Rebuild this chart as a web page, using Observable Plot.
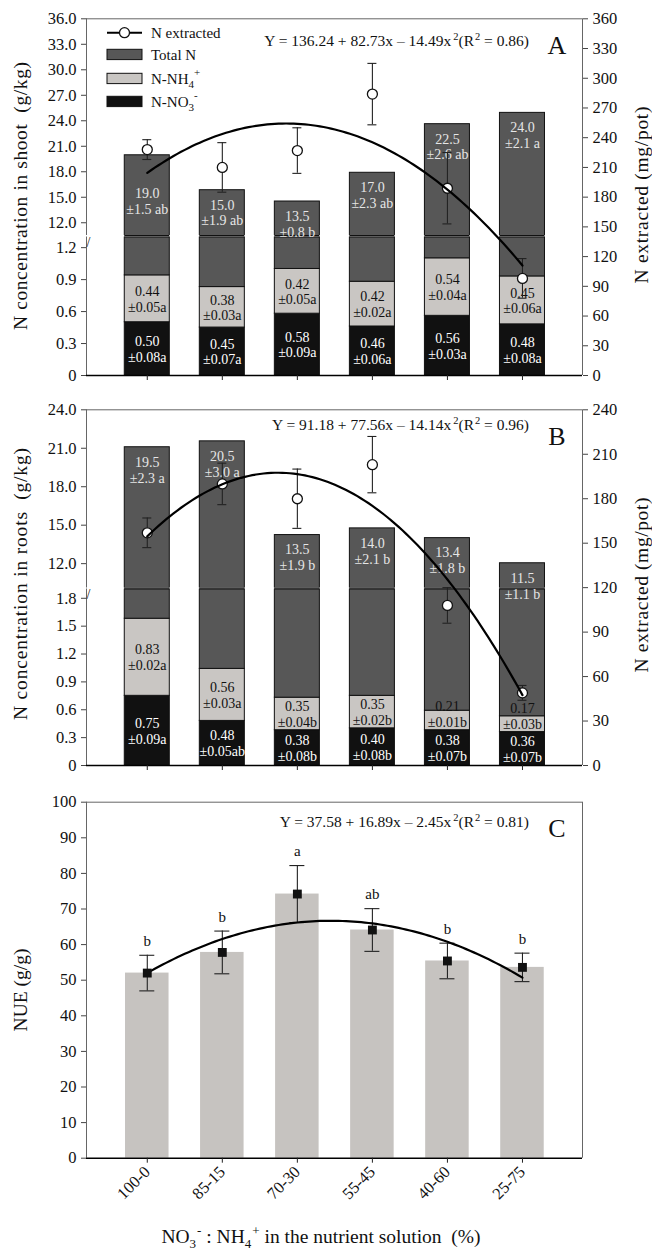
<!DOCTYPE html>
<html><head><meta charset="utf-8">
<script src="https://cdn.jsdelivr.net/npm/d3@7"></script>
<script src="https://cdn.jsdelivr.net/npm/@observablehq/plot@0.6"></script>
<style>
body{margin:0;background:#fff;}
#chart{position:relative;width:652px;height:1253px;background:#fff;}
#chart svg.overlay text, #chart svg.overlay tspan{white-space:pre;}
</style></head><body><div id="chart"></div>
<script>
// ---------- data ----------
const categories = ["100-0","85-15","70-30","55-45","40-60","25-75"];
const idx = [1,2,3,4,5,6];

// Panel A – shoot
const shootNO3 = [0.50,0.45,0.58,0.46,0.56,0.48];
const shootNO3SD = ["±0.08a","±0.07a","±0.09a","±0.06a","±0.03a","±0.08a"];
const shootNH4 = [0.44,0.38,0.42,0.42,0.54,0.45];
const shootNH4SD = ["±0.05a","±0.03a","±0.05a","±0.02a","±0.04a","±0.06a"];
const shootTotal = [19.0,15.0,13.5,17.0,22.5,24.0];
const shootTotalSD = ["±1.5 ab","±1.9 ab","±0.8 b","±2.3 ab","±2.6 ab","±2.1 a"];
const shootExtracted = [228,210,227,284,189,98];
const shootExtractedErr = [10,25,23,31,36,20];
const shootFit = [136.24, 82.73, -14.49];

// Panel B – roots
const rootNO3 = [0.75,0.48,0.38,0.40,0.38,0.36];
const rootNO3SD = ["±0.09a","±0.05ab","±0.08b","±0.08b","±0.07b","±0.07b"];
const rootNH4 = [0.83,0.56,0.35,0.35,0.21,0.17];
const rootNH4SD = ["±0.02a","±0.03a","±0.04b","±0.02b","±0.01b","±0.03b"];
const rootTotal = [19.5,20.5,13.5,14.0,13.4,11.5];
const rootTotalSD = ["±2.3 a","±3.0 a","±1.9 b","±2.1 b","±1.8 b","±1.1 b"];
const rootExtracted = [157,190,180,203,108,49];
const rootExtractedErr = [10,14,20,19,12,5];
const rootFit = [91.18, 77.56, -14.14];

// Panel C – NUE
const nue = [52.0,57.8,74.2,64.1,55.4,53.6];
const nueErr = [5,6,8,6,5,4];
const nueLetters = ["b","b","a","ab","b","b"];
const nueFit = [37.58, 16.89, -2.45];

// axes
const shootTicksUpper = [12,15,18,21,24,27,30,33,36];
const shootTicksLower = [0,0.3,0.6,0.9,1.2];
const shootDomUpper = [10.5, 36];
const shootDomLower = [0, 1.3];
const extractedDomA = [0, 360];
const extractedTicksA = d3.range(0, 361, 30);
const rootTicksUpper = [12,15,18,21,24];
const rootTicksLower = [0,0.3,0.6,0.9,1.2,1.5,1.8];
const rootDomUpper = [10.1, 24];
const rootDomLower = [0, 1.9];
const extractedDomB = [0, 240];
const extractedTicksB = d3.range(0, 241, 30);
const nueTicks = d3.range(0, 101, 10);

// ---------- styling ----------
const FONT = "'Liberation Serif','Times New Roman',serif";
const C_TOTAL = "#575757", C_NH4 = "#c9c6c3", C_NO3 = "#111111", C_NUE = "#c6c3c0";
const FRAME = "#666";
const xDomain = [0.19, 6.8];
const barHalf = 0.3, capHalf = 0.06;
const H = 390; // height of panels A and B

const chart = document.getElementById("chart");

function addPlot(top, height, mTop, mBottom, yDomain, marks) {
  const svg = Plot.plot({
    width: 652, height,
    marginTop: mTop, marginBottom: mBottom, marginLeft: 86, marginRight: 70,
    x: {domain: xDomain, axis: null},
    y: {domain: yDomain, axis: null},
    style: {background: "transparent", overflow: "visible", fontFamily: FONT, fontSize: "16.5px", color: "#111"},
    marks
  });
  Object.assign(svg.style, {position: "absolute", left: "0px", top: top + "px", maxWidth: "none"});
  chart.appendChild(svg);
}

const fitAt = (c, x) => c[0] + c[1] * x + c[2] * x * x;
function rows(no3, nh4, total, no3sd, nh4sd, totsd) {
  return idx.map((x, i) => {
    const a = no3[i], b = a + nh4[i], c = b + total[i];
    return {x, no3: no3[i], nh4: nh4[i], total: total[i], s1: a, s2: b, s3: c,
      no3Text: `${no3[i].toFixed(2)}\n${no3sd[i]}`,
      nh4Text: `${nh4[i].toFixed(2)}\n${nh4sd[i]}`,
      totText: `${total[i].toFixed(1)}\n${totsd[i]}`};
  });
}
function pointRows(vals, errs) { return idx.map((x, i) => ({x, v: vals[i], lo: vals[i] - errs[i], hi: vals[i] + errs[i]})); }
function fitCurve(c) { return d3.range(1, 6.0001, 0.05).map(x => ({x, y: fitAt(c, x)})); }

const bx1 = d => d.x - barHalf, bx2 = d => d.x + barHalf;
function barMarks(R) {
  return [
    Plot.rectY(R, {x1: bx1, x2: bx2, y1: 0, y2: "s1", fill: C_NO3, stroke: "#111", strokeWidth: 1, clip: true}),
    Plot.rectY(R, {x1: bx1, x2: bx2, y1: "s1", y2: "s2", fill: C_NH4, stroke: "#111", strokeWidth: 1, clip: true}),
    Plot.rectY(R, {x1: bx1, x2: bx2, y1: "s2", y2: "s3", fill: C_TOTAL, stroke: "#111", strokeWidth: 1, clip: true})
  ];
}

function panel(cfg) {
  const {top, R, domU, ticksU, domL, ticksL, mTopU, mBotU, mTopL, mBotL, mTopR, mBotR, domR, ticksR, P, fit} = cfg;
  const kU = (H - mBotU - mTopU) / (domU[1] - domU[0]);
  const kL = (H - mBotL - mTopL) / (domL[1] - domL[0]);
  const kR = (H - mBotR - mTopR) / (domR[1] - domR[0]);
  const yU = v => mTopU + (domU[1] - v) * kU;
  const yR = v => mTopR + (domR[1] - v) * kR;
  // total-N label: just under the bar top, or under the fit curve when the curve crosses the bar top
  const labelY = d => {
    const barTop = yU(d.s3), curve = yR(fitAt(fit, d.x));
    const px = (curve > barTop && curve - barTop < 25) ? curve + 14 : barTop + 8;
    return domU[1] - (px - mTopU) / kU;
  };
  // NH4 label: centred in its segment, but at least 16 px above the NO3 segment
  const nh4Y = d => Math.max(d.s1 + d.nh4 / 2, d.s1 + 16 / kL);

  // lower section
  addPlot(top, H, mTopL, mBotL, domL, [
    ...barMarks(R),
    Plot.ruleY(R, {y: () => domL[1], x1: bx1, x2: bx2, stroke: "#111", strokeWidth: 1.2}),
    Plot.text(R, {x: "x", y: nh4Y, text: "nh4Text", fill: "#111", fontSize: 14, lineHeight: 1.12}),
    Plot.text(R, {x: "x", y: d => d.s1 / 2, text: "no3Text", fill: "#fff", fontSize: 14, lineHeight: 1.12}),
    Plot.ruleX([xDomain[0]], {stroke: FRAME}),
    Plot.ruleY([0], {stroke: "#000", strokeWidth: 1.6}),
    Plot.axisY({anchor: "left", ticks: ticksL, tickFormat: d => d === 0 ? "0" : d.toFixed(1), tickSize: 5, tickPadding: 5, stroke: "#444", label: null}),
    Plot.axisX({anchor: "bottom", ticks: idx, tickFormat: () => "", tickSize: 5, stroke: "#222", label: null}),
    Plot.text(["/"], {frameAnchor: "top-left", fontSize: 14, fill: "#222"})
  ]);
  // upper section
  addPlot(top, H, mTopU, mBotU, domU, [
    ...barMarks(R),
    Plot.ruleY(R, {y: () => domU[0], x1: bx1, x2: bx2, stroke: "#111", strokeWidth: 1.2}),
    Plot.text(R, {x: "x", y: labelY, text: "totText", fill: "#e6e6e6", fontSize: 14, lineHeight: 1.14, lineAnchor: "top"}),
    Plot.ruleX([xDomain[0]], {stroke: FRAME}),
    Plot.ruleY([domU[1]], {stroke: FRAME}),
    Plot.axisY({anchor: "left", ticks: ticksU, tickFormat: d3.format(".1f"), tickSize: 5, tickPadding: 5, stroke: "#444", label: null})
  ]);
  // right axis: N extracted
  addPlot(top, H, mTopR, mBotR, domR, [
    Plot.ruleX([xDomain[1]], {stroke: FRAME}),
    Plot.axisY({anchor: "right", ticks: ticksR, tickFormat: d => String(d), tickSize: 5, tickPadding: 5, stroke: "#444", label: null}),
    Plot.ruleX(P, {x: "x", y1: "lo", y2: "hi", stroke: "#222", strokeWidth: 1.1}),
    Plot.ruleY(P, {y: "hi", x1: d => d.x - capHalf, x2: d => d.x + capHalf, stroke: "#222", strokeWidth: 1.1}),
    Plot.ruleY(P, {y: "lo", x1: d => d.x - capHalf, x2: d => d.x + capHalf, stroke: "#222", strokeWidth: 1.1}),
    Plot.dot(P, {x: "x", y: "v", r: 5, fill: "#fff", stroke: "#111", strokeWidth: 1.3}),
    Plot.line(fitCurve(fit), {x: "x", y: "y", stroke: "#000", strokeWidth: 2.2})
  ]);
}

// Panel A
panel({top: 0, R: rows(shootNO3, shootNH4, shootTotal, shootNO3SD, shootNH4SD, shootTotalSD),
  domU: shootDomUpper, ticksU: shootTicksUpper, domL: shootDomLower, ticksL: shootTicksLower,
  mTopU: 18.3, mBotU: 155, mTopL: 236.5, mBotL: 15, mTopR: 18.3, mBotR: 15,
  domR: extractedDomA, ticksR: extractedTicksA, P: pointRows(shootExtracted, shootExtractedErr), fit: shootFit});

// Panel B
panel({top: 390, R: rows(rootNO3, rootNH4, rootTotal, rootNO3SD, rootNH4SD, rootTotalSD),
  domU: rootDomUpper, ticksU: rootTicksUpper, domL: rootDomLower, ticksL: rootTicksLower,
  mTopU: 19.3, mBotU: 192.5, mTopL: 198.5, mBotL: 15, mTopR: 19.3, mBotR: 15,
  domR: extractedDomB, ticksR: extractedTicksB, P: pointRows(rootExtracted, rootExtractedErr), fit: rootFit});

// Panel C
const PC = pointRows(nue, nueErr).map((d, i) => ({...d, letter: nueLetters[i]}));
addPlot(780, 473, 21.7, 95.3, [0, 100], [
  Plot.rectY(PC, {x1: d => d.x - 0.29, x2: d => d.x + 0.29, y1: 0, y2: "v", fill: C_NUE}),
  Plot.ruleX(PC, {x: "x", y1: "lo", y2: "hi", stroke: "#222", strokeWidth: 1.1}),
  Plot.ruleY(PC, {y: "hi", x1: d => d.x - 0.1, x2: d => d.x + 0.1, stroke: "#222", strokeWidth: 1.1}),
  Plot.ruleY(PC, {y: "lo", x1: d => d.x - 0.1, x2: d => d.x + 0.1, stroke: "#222", strokeWidth: 1.1}),
  Plot.line(fitCurve(nueFit), {x: "x", y: "y", stroke: "#000", strokeWidth: 2.2}),
  Plot.dot(PC, {x: "x", y: "v", symbol: "square", r: 5, fill: "#111"}),
  Plot.text(PC, {x: "x", y: "hi", text: "letter", dy: -14, fontSize: 15, fill: "#111"}),
  Plot.ruleX([xDomain[0]], {stroke: FRAME}),
  Plot.ruleX([xDomain[1]], {stroke: FRAME}),
  Plot.ruleY([100], {stroke: FRAME}),
  Plot.ruleY([0], {stroke: "#000", strokeWidth: 1.6}),
  Plot.axisY({anchor: "left", ticks: nueTicks, tickFormat: d => String(d), tickSize: 5, tickPadding: 5, stroke: "#444", label: null}),
  Plot.axisX({anchor: "bottom", ticks: idx, tickFormat: i => categories[i - 1], tickRotate: -45, tickSize: 5, tickPadding: 6, stroke: "#222", label: null, fontSize: 16.5})
]);

// ---------- overlay: titles, equations, legend ----------
const ov = d3.create("svg").attr("class", "overlay").attr("width", 652).attr("height", 1253)
  .style("position", "absolute").style("left", "0px").style("top", "0px")
  .style("font-family", FONT).style("overflow", "visible").attr("fill", "#111");

function rich(g, parts, attrs) {
  const t = g.append("text");
  for (const k in attrs) t.attr(k, attrs[k]);
  let cur = 0;
  for (const p of parts) {
    const [s, shift = 0, size = null, dx = 0] = Array.isArray(p) ? p : [p];
    const ts = t.append("tspan").text(s);
    if (shift - cur) ts.attr("dy", shift - cur);
    if (dx) ts.attr("dx", dx);
    if (size) ts.attr("font-size", size);
    cur = shift;
  }
  return t;
}

// axis titles
const titles = [
  {text: "N concentration in shoot  (g/kg)", x: 27, y: 196, len: 268},
  {text: "N concentration in roots  (g/kg)", x: 27, y: 584, len: 272},
  {text: "NUE (g/g)", x: 27, y: 990, len: null},
  {text: "N extracted (mg/pot)", x: 648, y: 195, len: 177},
  {text: "N extracted (mg/pot)", x: 648, y: 585, len: 175}
];
for (const t of titles) {
  const el = ov.append("text").attr("transform", `translate(${t.x},${t.y}) rotate(-90)`)
    .attr("text-anchor", "middle").attr("font-size", 19.5).text(t.text);
  if (t.len) el.attr("textLength", t.len).attr("lengthAdjust", "spacing");
}

// equations
const eqs = [
  {a: "136.24", b: "82.73", c: "14.49", r: "0.86", y: 45.5},
  {a: "91.18", b: "77.56", c: "14.14", r: "0.96", y: 430},
  {a: "37.58", b: "16.89", c: "2.45", r: "0.81", y: 826.5}
];
for (const e of eqs) {
  rich(ov, [`Y = ${e.a} + ${e.b}x – ${e.c}x`, ["2", -6, 10.5, 2], ["(R", 0], ["2", -6, 10.5, 1], [" = " + e.r + ")", 0]],
    {x: 529, y: e.y, "text-anchor": "end", "font-size": 15.5});
}
// panel letters
[["A", 53.5], ["B", 445], ["C", 837]].forEach(([l, y]) =>
  ov.append("text").attr("x", 557).attr("y", y).attr("text-anchor", "middle").attr("font-size", 26).text(l));

// x-axis title
rich(ov, ["NO", ["3", 5, 13], ["-", -8, 13, 1], [" : NH", 0], ["4", 5, 13], ["+", -8, 13, 1], [" in the nutrient solution  (%)", 0]],
  {x: 321, y: 1243, "text-anchor": "middle", "font-size": 19.5});

// legend (panel A)
const lg = ov.append("g");
lg.append("line").attr("x1", 107).attr("x2", 142).attr("y1", 32.7).attr("y2", 32.7).attr("stroke", "#000").attr("stroke-width", 2);
lg.append("circle").attr("cx", 124.5).attr("cy", 32.7).attr("r", 5).attr("fill", "#fff").attr("stroke", "#111").attr("stroke-width", 1.3);
[[49.3, C_TOTAL], [73.3, C_NH4], [96.3, C_NO3]].forEach(([y, c]) =>
  lg.append("rect").attr("x", 107).attr("y", y).attr("width", 35).attr("height", 10.3).attr("fill", c).attr("stroke", "#111").attr("stroke-width", 1));
rich(lg, ["N extracted"], {x: 151, y: 37.8, "font-size": 15});
rich(lg, ["Total N"], {x: 151, y: 60, "font-size": 15});
rich(lg, ["N-NH", ["4", 4, 11], ["+", -8, 11, 0]], {x: 151, y: 83.5, "font-size": 15});
rich(lg, ["N-NO", ["3", 4, 11], ["-", -8, 11, 0]], {x: 151, y: 106.5, "font-size": 15});

chart.appendChild(ov.node());
</script>
</body></html>
